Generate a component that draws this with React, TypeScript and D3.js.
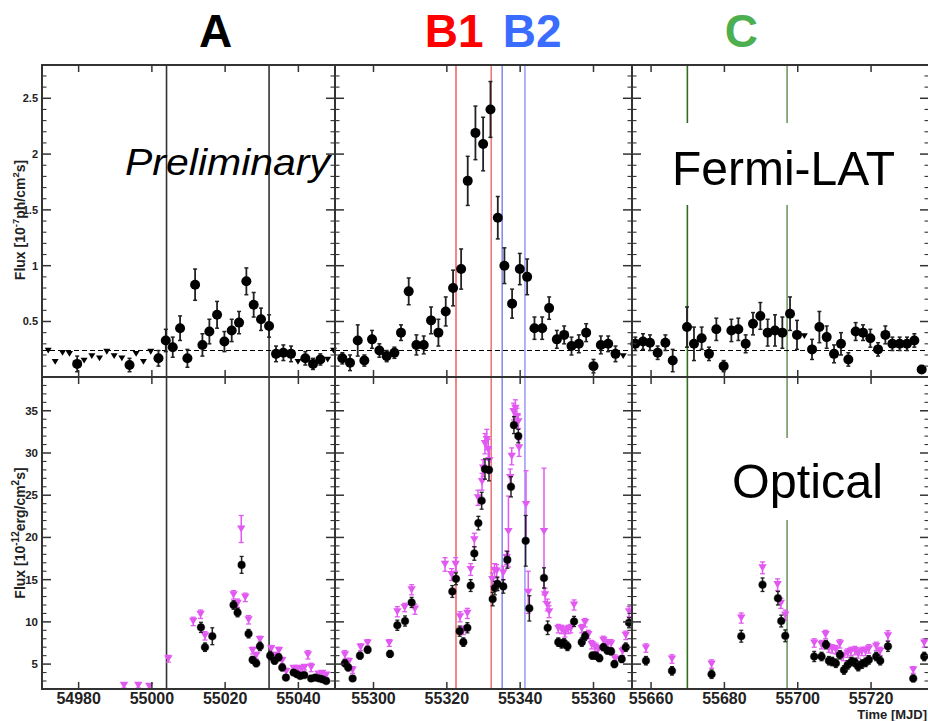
import React from 'react';
import * as d3 from 'd3';

const W = 928;
const H = 721;

// panel time domains (MJD)
const panelDomains: [number, number][] = [[54970, 55050], [55289.5, 55370.5], [55654.8, 55735.8]];
const panelRanges: [number, number][] = [[42, 335], [335, 632], [632, 929]];

const topTicks = [0.5, 1, 1.5, 2, 2.5];
const bottomTicks = [5, 10, 15, 20, 25, 30, 35];
const xTickLabels = [54980, 55000, 55020, 55040, 55300, 55320, 55340, 55360, 55660, 55680, 55700, 55720];
const baseline = 0.24;

// Fermi-LAT flux points [MJD, flux, err]
const fermiPoints: [number, number, number][] = [
  [54979.6, 0.12, 0.07], [54993.9, 0.11, 0.06], [55001.8, 0.17, 0.07], [55003.8, 0.33, 0.10],
  [55005.7, 0.27, 0.09], [55007.7, 0.44, 0.11], [55009.7, 0.17, 0.08], [55011.8, 0.83, 0.14],
  [55013.8, 0.29, 0.10], [55015.7, 0.41, 0.11], [55017.8, 0.56, 0.12], [55019.8, 0.32, 0.09],
  [55021.8, 0.42, 0.10], [55023.8, 0.49, 0.10], [55025.8, 0.86, 0.12], [55027.8, 0.65, 0.11],
  [55029.8, 0.52, 0.10], [55032.0, 0.46, 0.10], [55033.9, 0.21, 0.07], [55035.9, 0.22, 0.07],
  [55038.0, 0.21, 0.07], [55041.9, 0.17, 0.06], [55044.0, 0.12, 0.05], [55046.0, 0.16, 0.05],
  [55291.5, 0.17, 0.05], [55293.6, 0.13, 0.07], [55295.7, 0.33, 0.14], [55297.5, 0.15, 0.05],
  [55299.6, 0.34, 0.08], [55301.6, 0.24, 0.06], [55303.6, 0.19, 0.05], [55305.7, 0.22, 0.05],
  [55307.5, 0.40, 0.07], [55309.6, 0.77, 0.12], [55311.7, 0.29, 0.09], [55313.7, 0.29, 0.08],
  [55315.7, 0.51, 0.12], [55317.7, 0.40, 0.12], [55319.7, 0.59, 0.13], [55321.7, 0.80, 0.16],
  [55323.9, 0.97, 0.18], [55325.7, 1.76, 0.22], [55327.8, 2.19, 0.24], [55329.9, 2.09, 0.24],
  [55331.9, 2.40, 0.25], [55333.9, 1.43, 0.19], [55335.7, 1.00, 0.16], [55337.8, 0.66, 0.13],
  [55339.9, 0.97, 0.14], [55341.9, 0.90, 0.16], [55343.9, 0.44, 0.10], [55346.0, 0.44, 0.10],
  [55347.9, 0.62, 0.10], [55350.0, 0.34, 0.08], [55352.0, 0.38, 0.08], [55354.0, 0.28, 0.08],
  [55356.0, 0.30, 0.08], [55358.0, 0.40, 0.08], [55360.0, 0.10, 0.06], [55362.0, 0.29, 0.08],
  [55364.0, 0.30, 0.07], [55366.0, 0.21, 0.07],
  [55655.7, 0.30, 0.06], [55657.8, 0.32, 0.07], [55659.7, 0.31, 0.07], [55661.8, 0.22, 0.06],
  [55663.9, 0.31, 0.07], [55665.9, 0.15, 0.10], [55669.8, 0.45, 0.18], [55671.7, 0.30, 0.15],
  [55673.8, 0.35, 0.10], [55675.8, 0.21, 0.06], [55677.8, 0.43, 0.10], [55679.8, 0.10, 0.05],
  [55681.9, 0.42, 0.10], [55683.8, 0.43, 0.10], [55685.8, 0.30, 0.08], [55687.8, 0.48, 0.10],
  [55689.8, 0.55, 0.12], [55691.8, 0.40, 0.12], [55693.8, 0.42, 0.14], [55695.8, 0.40, 0.14],
  [55697.9, 0.57, 0.15], [55699.8, 0.38, 0.13], [55703.9, 0.25, 0.09], [55705.9, 0.45, 0.14],
  [55707.9, 0.36, 0.10], [55709.9, 0.21, 0.08], [55711.8, 0.30, 0.10], [55713.8, 0.16, 0.06],
  [55715.8, 0.41, 0.08], [55717.8, 0.40, 0.07], [55719.8, 0.35, 0.08], [55721.9, 0.25, 0.06],
  [55723.9, 0.38, 0.08], [55725.8, 0.30, 0.06], [55727.8, 0.30, 0.06], [55729.8, 0.30, 0.06],
  [55731.8, 0.33, 0.06], [55733.8, 0.07, 0.03],
];

// Fermi-LAT upper limits [MJD, flux]
const fermiUpperLimits: [number, number][] = [
  [54971.7, 0.24], [54973.6, 0.14], [54975.6, 0.22], [54977.5, 0.21], [54981.5, 0.15],
  [54983.6, 0.19], [54985.7, 0.17], [54987.7, 0.23], [54989.7, 0.19], [54991.8, 0.17],
  [54995.7, 0.21], [54997.7, 0.14], [54999.7, 0.23], [55039.9, 0.14], [55048.0, 0.16],
  [55049.6, 0.24], [55368.1, 0.19], [55701.8, 0.37],
];

// Optical (black) [MJD, flux, err]
const opticalBlack: [number, number, number][] = [
  [55013.4, 9.35, 0.6], [55014.5, 7.0, 0.5], [55016.5, 8.3, 1.0], [55022.3, 12.0, 0.5],
  [55023.4, 11.1, 0.5], [55024.5, 16.75, 1.0], [55026.4, 8.6, 0.5], [55027.5, 5.5, 0.4],
  [55028.5, 5.1, 0.4], [55029.5, 7.1, 0.5], [55032.3, 6.0, 0.5], [55033.5, 5.4, 0.4],
  [55034.6, 5.8, 0.4], [55035.6, 4.6, 0.4], [55036.6, 3.4, 0.3], [55038.7, 4.0, 0.3],
  [55039.6, 3.8, 0.3], [55040.5, 3.6, 0.3], [55041.6, 3.7, 0.3], [55043.5, 3.3, 0.3],
  [55044.6, 3.4, 0.3], [55045.7, 3.3, 0.3], [55046.6, 3.2, 0.3], [55047.6, 3.0, 0.3],
  [55292.2, 5.1, 0.4], [55293.1, 4.6, 0.4], [55294.3, 3.3, 0.3], [55296.3, 6.0, 0.4],
  [55298.4, 6.7, 0.4], [55304.5, 6.2, 0.4], [55306.5, 9.6, 0.6], [55308.6, 10.1, 0.6],
  [55310.4, 12.3, 0.6], [55321.5, 13.6, 0.7], [55322.5, 15.1, 0.7], [55323.5, 8.9, 0.6],
  [55324.5, 7.6, 0.5], [55325.6, 9.3, 0.6], [55326.5, 14.3, 0.7], [55327.5, 18.1, 0.8],
  [55328.6, 21.7, 0.8], [55329.5, 24.35, 1.0], [55330.4, 28.1, 1.2], [55331.5, 28.0, 1.3],
  [55332.5, 12.7, 0.8], [55333.1, 14.0, 0.8], [55333.8, 14.5, 0.8], [55335.4, 14.2, 0.8],
  [55336.5, 17.35, 1.0], [55337.5, 26.0, 1.2], [55338.3, 33.3, 1.0], [55339.5, 32.0, 0.8],
  [55341.5, 19.6, 3.0], [55342.5, 11.6, 1.5], [55346.5, 15.2, 1.2], [55347.5, 9.3, 0.8],
  [55350.4, 7.6, 0.5], [55351.3, 7.4, 0.5], [55352.0, 7.5, 0.5], [55352.9, 7.1, 0.5],
  [55354.7, 10.05, 0.6], [55356.8, 7.6, 0.5], [55357.7, 8.3, 0.5], [55359.7, 6.0, 0.4],
  [55360.6, 6.0, 0.4], [55361.6, 5.7, 0.4], [55362.7, 7.0, 0.4], [55363.8, 6.6, 0.4],
  [55364.8, 6.5, 0.4], [55365.7, 5.0, 0.4], [55367.7, 5.6, 0.4], [55368.8, 7.0, 0.5],
  [55369.7, 9.9, 0.6],
  [55658.6, 5.4, 0.5], [55665.7, 4.2, 0.5], [55676.5, 3.8, 0.5], [55684.6, 8.3, 0.7],
  [55690.4, 14.4, 0.8], [55694.6, 12.8, 0.8], [55695.5, 10.1, 0.7], [55696.6, 8.35, 0.7],
  [55704.5, 5.9, 0.6], [55706.5, 5.9, 0.5], [55707.7, 7.3, 0.5], [55708.5, 5.4, 0.5],
  [55709.4, 5.3, 0.5], [55710.4, 5.1, 0.5], [55711.5, 6.1, 0.5], [55712.6, 4.3, 0.5],
  [55713.6, 4.9, 0.5], [55714.7, 5.3, 0.5], [55715.6, 5.2, 0.5], [55716.5, 4.7, 0.5],
  [55717.5, 5.0, 0.5], [55718.5, 5.2, 0.5], [55719.4, 5.5, 0.5], [55721.4, 5.9, 0.5],
  [55722.5, 5.4, 0.5], [55724.6, 7.1, 0.6], [55731.5, 3.3, 0.4], [55734.5, 5.9, 0.5],
];

// Optical (magenta) [MJD, flux, err]
const opticalMagenta: [number, number, number][] = [
  [54992.4, 2.47, 0.3], [54996.3, 2.47, 0.3], [54999.3, 2.35, 0.3], [55004.5, 5.63, 0.4],
  [55011.3, 10.05, 0.5], [55013.3, 10.9, 0.5], [55014.5, 8.35, 0.5], [55022.3, 13.2, 0.5],
  [55023.4, 12.2, 0.5], [55024.4, 21.0, 1.6], [55025.5, 12.9, 0.5], [55026.4, 10.25, 0.5],
  [55027.5, 6.6, 0.4], [55028.5, 6.0, 0.4], [55029.5, 7.9, 0.4], [55032.6, 6.8, 0.4],
  [55033.7, 6.0, 0.4], [55034.7, 6.6, 0.4], [55035.6, 5.4, 0.4], [55036.7, 4.1, 0.4],
  [55038.7, 4.5, 0.3], [55039.8, 4.5, 0.3], [55040.8, 4.4, 0.3], [55041.7, 4.6, 0.3],
  [55042.6, 6.1, 0.5], [55043.5, 4.6, 0.5], [55045.5, 3.8, 0.3], [55046.5, 3.9, 0.3],
  [55047.6, 3.7, 0.3],
  [55292.2, 6.1, 0.5], [55293.3, 5.3, 0.4], [55294.3, 4.3, 0.4], [55296.5, 7.0, 0.4],
  [55298.4, 7.5, 0.4], [55304.3, 7.5, 0.4], [55306.5, 11.2, 0.6], [55308.5, 11.7, 0.5],
  [55310.4, 13.8, 0.6], [55311.3, 11.5, 0.6], [55319.5, 16.8, 0.8], [55321.3, 15.6, 0.7],
  [55322.4, 16.8, 0.8], [55323.6, 10.6, 0.6], [55324.5, 9.0, 0.5], [55325.6, 11.0, 0.6],
  [55326.5, 16.2, 0.7], [55327.5, 19.7, 0.8], [55328.5, 24.7, 0.9], [55329.6, 26.6, 1.0],
  [55329.9, 28.2, 1.0], [55330.4, 31.1, 1.2], [55330.9, 31.6, 1.2], [55331.3, 30.4, 1.2],
  [55331.6, 29.1, 1.5], [55332.4, 15.0, 0.8], [55333.0, 16.1, 0.8], [55333.6, 16.0, 0.8],
  [55335.4, 15.8, 0.8], [55336.3, 17.6, 0.8], [55336.8, 20.7, 4.2], [55337.3, 27.1, 1.0],
  [55337.7, 29.6, 1.0], [55338.2, 34.9, 1.0], [55338.7, 35.3, 1.0], [55339.1, 34.3, 1.0],
  [55339.5, 33.7, 0.8], [55339.7, 30.6, 1.0], [55341.6, 23.9, 4.0], [55342.2, 13.5, 2.5],
  [55346.5, 20.7, 7.5], [55346.8, 13.2, 0.8], [55347.4, 12.0, 0.7], [55347.9, 11.2, 0.7],
  [55350.4, 9.2, 0.5], [55351.3, 9.1, 0.5], [55352.2, 8.7, 0.5], [55353.1, 9.1, 0.5],
  [55353.8, 9.2, 0.5], [55354.7, 12.0, 0.6], [55356.8, 9.2, 0.5], [55357.7, 9.9, 0.5],
  [55358.6, 8.5, 0.5], [55359.5, 7.3, 0.5], [55360.4, 7.0, 0.5], [55361.3, 6.7, 0.5],
  [55362.7, 7.8, 0.5], [55363.8, 7.4, 0.5], [55364.8, 7.4, 0.5], [55365.9, 5.6, 0.5],
  [55367.9, 6.5, 0.5], [55368.8, 8.4, 0.5], [55369.7, 11.2, 0.6],
  [55658.6, 6.9, 0.5], [55665.7, 5.6, 0.5], [55676.5, 5.0, 0.5], [55684.6, 10.45, 0.6],
  [55690.4, 16.4, 0.7], [55694.5, 14.4, 0.7], [55695.4, 12.2, 0.6], [55696.6, 10.8, 0.6],
  [55704.5, 7.5, 0.5], [55706.5, 7.3, 0.5], [55707.6, 8.5, 0.5], [55708.5, 6.9, 0.5],
  [55709.4, 6.8, 0.5], [55710.4, 6.7, 0.5], [55711.5, 7.4, 0.5], [55712.4, 5.9, 0.5],
  [55713.6, 6.3, 0.5], [55714.5, 6.5, 0.5], [55715.6, 6.6, 0.5], [55716.5, 6.2, 0.5],
  [55717.5, 6.5, 0.5], [55718.5, 6.5, 0.5], [55719.4, 6.8, 0.5], [55721.4, 7.1, 0.5],
  [55722.5, 6.5, 0.5], [55724.6, 8.35, 0.6], [55731.5, 4.3, 0.4], [55734.5, 7.5, 0.5],
];

// flare periods
const periods = [
  { label: 'A', labelDay: 55017.4, color: '#000000', days: [55004, 55032], lineColors: ['#333333', '#333333'] },
  { label: 'B1', labelDay: 55322.0, color: '#ff0000', days: [55322.5, 55332.1], lineColors: ['#f06a6a', '#f07a7a'] },
  { label: 'B2', labelDay: 55343.3, color: '#3a6cff', days: [55335.1, 55341.3], lineColors: ['#8c8cf5', '#9f9ff5'] },
  { label: 'C', labelDay: 55684.6, color: '#4caf50', days: [55669.9, 55697.1], lineColors: ['#2f6e1a', '#6f9a62'] },
];

const FONT = "'Liberation Sans', Arial, Helvetica, sans-serif";
const MAG = '#e259f2';

export default function App() {
  const xs = panelDomains.map((d, i) => d3.scaleLinear().domain(d).range(panelRanges[i]));
  const yT = d3.scaleLinear().domain([0, 2.8]).range([377.3, 64.8]);
  const yB = d3.scaleLinear().domain([2.05, 39]).range([689, 377]);
  const TOP0 = 65, MID = 377, BOT = 689;
  const panelOf = (day: number) => panelDomains.findIndex(d => day >= d[0] && day <= d[1]);
  const X = (day: number) => { const i = panelOf(day); return i < 0 ? null : xs[i](day); };

  const topMinor = d3.range(0.1, 2.8, 0.1);
  const botMinor = d3.range(3, 39, 1);

  const els: React.ReactNode[] = [];

  // flare period lines
  periods.forEach((p, pi) => {
    p.days.forEach((d, k) => {
      const x = X(d)!;
      els.push(<line key={`pl${pi}${k}`} x1={x} x2={x} y1={TOP0} y2={BOT} stroke={p.lineColors[k]} strokeWidth={1.6} />);
    });
  });

  // white boxes behind big labels
  els.push(<rect key="boxF" x={662} y={123} width={246} height={82} fill="#fff" />);
  els.push(<rect key="boxO" x={722} y={438} width={172} height={82} fill="#fff" />);

  // dashed baseline
  panelRanges.forEach((r, i) => {
    els.push(<line key={`dash${i}`} x1={r[0]} x2={r[1]} y1={yT(baseline)} y2={yT(baseline)} stroke="#000" strokeWidth={1.2} strokeDasharray="5,3" />);
  });

  // Fermi points
  fermiPoints.forEach(([d, v, e], i) => {
    const x = X(d); if (x == null) return;
    const y1 = yT(v + e), y2 = yT(Math.max(0, v - e));
    els.push(
      <g key={`fp${i}`}>
        <line x1={x} x2={x} y1={y1} y2={y2} stroke="#222" strokeWidth={1.8} />
        <line x1={x - 2} x2={x + 2} y1={y1} y2={y1} stroke="#222" strokeWidth={1.5} />
        <line x1={x - 2} x2={x + 2} y1={y2} y2={y2} stroke="#222" strokeWidth={1.5} />
        <circle cx={x} cy={yT(v)} r={5} fill="#000" />
      </g>
    );
  });
  fermiUpperLimits.forEach(([d, v], i) => {
    const x = X(d); if (x == null) return;
    const y = yT(v);
    els.push(<path key={`ul${i}`} d={`M${x - 3.5},${y - 2.8}L${x + 3.5},${y - 2.8}L${x},${y + 3}Z`} fill="#000" />);
  });

  // optical magenta
  opticalMagenta.forEach(([d, v, e], i) => {
    const x = X(d); if (x == null) return;
    const y = yB(v), y1 = yB(v + e), y2 = yB(Math.max(2.05, v - e));
    els.push(
      <g key={`om${i}`}>
        <line x1={x} x2={x} y1={y1} y2={y2} stroke={MAG} strokeWidth={1.5} />
        <line x1={x - 2.5} x2={x + 2.5} y1={y1} y2={y1} stroke={MAG} strokeWidth={1.3} />
        <line x1={x - 2.5} x2={x + 2.5} y1={y2} y2={y2} stroke={MAG} strokeWidth={1.3} />
        <path d={`M${x - 4.2},${y - 3.6}L${x + 4.2},${y - 3.6}L${x},${y + 3.6}Z`} fill={MAG} />
      </g>
    );
  });
  // optical black
  opticalBlack.forEach(([d, v, e], i) => {
    const x = X(d); if (x == null) return;
    const y = yB(v), y1 = yB(v + e), y2 = yB(Math.max(2.05, v - e));
    els.push(
      <g key={`ob${i}`}>
        <line x1={x} x2={x} y1={y1} y2={y2} stroke="#222" strokeWidth={1.5} />
        <line x1={x - 2} x2={x + 2} y1={y1} y2={y1} stroke="#222" strokeWidth={1.3} />
        <line x1={x - 2} x2={x + 2} y1={y2} y2={y2} stroke="#222" strokeWidth={1.3} />
        <circle cx={x} cy={y} r={3.8} fill="#000" stroke="rgba(0,0,0,0.35)" strokeWidth={1.2} />
      </g>
    );
  });

  // frames and ticks
  const frameCol = '#333';
  panelRanges.forEach((r, i) => {
    const [x0, x1] = r;
    [[TOP0, MID], [MID, BOT]].forEach(([ya, yb], row) => {
      els.push(<rect key={`fr${i}${row}`} x={x0} y={ya} width={x1 - x0} height={yb - ya} fill="none" stroke={frameCol} strokeWidth={2} />);
      // x ticks
      const xt = d3.range(Math.ceil(panelDomains[i][0] / 20) * 20, panelDomains[i][1], 20);
      xt.forEach(t => {
        const x = xs[i](t);
        els.push(<line key={`xt${i}${row}${t}a`} x1={x} x2={x} y1={yb} y2={yb - 7} stroke={frameCol} strokeWidth={1.5} />);
        els.push(<line key={`xt${i}${row}${t}b`} x1={x} x2={x} y1={ya} y2={ya + 7} stroke={frameCol} strokeWidth={1.5} />);
      });
      const ys = row === 0 ? yT : yB;
      const minor = row === 0 ? topMinor : botMinor;
      const major = row === 0 ? topTicks : bottomTicks;
      minor.forEach((t, k) => {
        const y = ys(t);
        if (y <= ya + 1 || y >= yb - 1) return;
        const isMajor = major.some(m => Math.abs(m - t) < 1e-6);
        const len = isMajor ? 9 : 4.5;
        els.push(<line key={`yt${i}${row}${k}l`} x1={x0} x2={x0 + len} y1={y} y2={y} stroke={frameCol} strokeWidth={isMajor ? 1.5 : 1.1} />);
        els.push(<line key={`yt${i}${row}${k}r`} x1={x1} x2={x1 - len} y1={y} y2={y} stroke={frameCol} strokeWidth={isMajor ? 1.5 : 1.1} />);
      });
    });
  });

  // y tick labels
  topTicks.forEach(t => {
    els.push(<text key={`tl${t}`} x={38} y={yT(t)} dy="0.35em" textAnchor="end" fontSize={11} fontWeight="bold" fill="#222" fontFamily={FONT}>{t}</text>);
  });
  bottomTicks.forEach(t => {
    els.push(<text key={`bl${t}`} x={38} y={yB(t)} dy="0.35em" textAnchor="end" fontSize={11.5} fontWeight="bold" fill="#222" fontFamily={FONT}>{t}</text>);
  });
  // x tick labels
  xTickLabels.forEach(t => {
    const x = X(t)!;
    els.push(<text key={`xl${t}`} x={x} y={704} textAnchor="middle" fontSize={16} fontWeight="bold" fill="#222" fontFamily={FONT}>{t}</text>);
  });

  return (
    <svg width={W} height={H} style={{ position: 'absolute', left: 0, top: 0, background: '#fff' }} fontFamily={FONT}>
      <rect x={0} y={0} width={W} height={H} fill="#fff" />
      {els}
      {/* period labels */}
      {periods.map(p => (
        <text key={`lab${p.label}`} x={X(p.labelDay)!} y={47} textAnchor="middle" fontSize={46} fontWeight="bold" fill={p.color}>{p.label}</text>
      ))}
      <text x={125} y={175} fontSize={37} fontStyle="italic" textLength={205} lengthAdjust="spacingAndGlyphs" fill="#000">Preliminary</text>
      <text x={672} y={185} fontSize={49} textLength={223} lengthAdjust="spacingAndGlyphs" fill="#000">Fermi-LAT</text>
      <text x={732} y={498} fontSize={49} textLength={151} lengthAdjust="spacingAndGlyphs" fill="#000">Optical</text>
      {/* axis titles */}
      <text transform="translate(25,220) rotate(-90)" textAnchor="middle" fontSize={14} fontWeight="bold" fill="#222">
        Flux [10<tspan fontSize={9.5} dy={-6}>-7</tspan><tspan dy={6}>ph/cm</tspan><tspan fontSize={9.5} dy={-6}>2</tspan><tspan dy={6}>s]</tspan>
      </text>
      <text transform="translate(25,533) rotate(-90)" textAnchor="middle" fontSize={14} fontWeight="bold" fill="#222">
        Flux [10<tspan fontSize={10} dy={-6}>-12</tspan><tspan dy={6}>erg/cm</tspan><tspan fontSize={10} dy={-6}>2</tspan><tspan dy={6}>s]</tspan>
      </text>
      <text x={927} y={719} textAnchor="end" fontSize={13} fontWeight="bold" fill="#222">Time [MJD]</text>
    </svg>
  );
}
